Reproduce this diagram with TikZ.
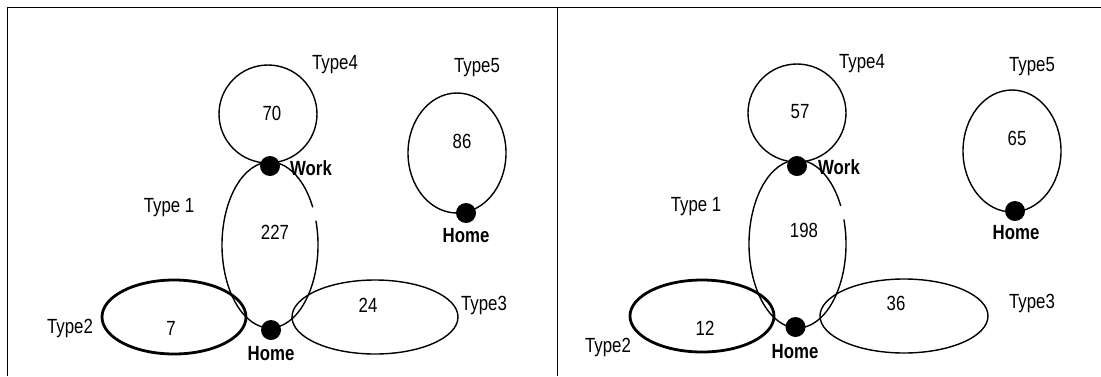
\documentclass[tikz,border=0pt]{standalone}
\usepackage{fontspec}
\setmainfont{Liberation Sans}[FakeStretch=0.82]
\begin{document}
\begin{tikzpicture}[x=1pt,y=-1pt,
	tripline/.style={line width=1.4pt},
	heavyline/.style={line width=2.8pt},
	anchordot/.style={circle,fill=black,inner sep=0pt,minimum size=20pt},
	typelabel/.style={inner sep=0pt,font=\fontsize{20.5}{24}\selectfont},
	placelabel/.style={inner sep=0pt,font=\bfseries\fontsize{20.5}{24}\selectfont}]
	\useasboundingbox (0,0) rectangle (1101,376);
	% table rules
	\coordinate (tl) at (7,7);
	\coordinate (tr) at (1101,7);
	\coordinate (bl) at (7,376);
	\coordinate (mt) at (557,7);
	\coordinate (mb) at (557,376);
	\draw[line width=0.9pt] (bl)--(tl)--(tr);
	\draw[line width=0.9pt] (mt)--(mb);
	
	% left panel
	\coordinate (c1) at (270,245);
	\draw[tripline] (268,114) circle[radius=49];
	\draw[tripline] (c1) ++(-17:48 and 83) arc[start angle=-17,end angle=333,x radius=48,y radius=83];
	\draw[heavyline] (174,317) ellipse[x radius=72,y radius=37];
	\draw[tripline] (375,317) ellipse[x radius=83,y radius=37];
	\draw[tripline] (457,153) ellipse[x radius=49,y radius=60];
	\node[anchordot] (work) at (270,166) {};
	\node[anchordot] (home) at (271,330) {};
	\node[anchordot] (home5) at (466,213) {};
	\node[placelabel] (worklbl) at (311,168) {Work};
	\node[placelabel] (homelbl) at (271,354) {Home};
	\node[placelabel] (home5lbl) at (466,236) {Home};
	\node[typelabel] (type4) at (335,65) {Type4};
	\node[typelabel] (type5) at (477,68) {Type5};
	\node[typelabel] (type1) at (169,208) {Type 1};
	\node[typelabel] (type2) at (70,328) {Type2};
	\node[typelabel] (type3) at (484,305) {Type3};
	\node[typelabel] (n4) at (272,113) {70};
	\node[typelabel] (n1) at (275,232) {227};
	\node[typelabel] (n2) at (171,328) {7};
	\node[typelabel] (n3) at (368,305) {24};
	\node[typelabel] (n5) at (462,141) {86};
	
	% right panel
	\coordinate (c1r) at (797.5,244);
	\draw[tripline] (797,113) circle[radius=49];
	\draw[tripline] (c1r) ++(-17:48.5 and 84) arc[start angle=-17,end angle=333,x radius=48.5,y radius=84];
	\draw[heavyline] (702,316) ellipse[x radius=72,y radius=36];
	\draw[tripline] (904,316) ellipse[x radius=84,y radius=37];
	\draw[tripline] (1012,151) ellipse[x radius=49,y radius=61];
	\node[anchordot] (workr) at (797,166) {};
	\node[anchordot] (homer) at (795.5,327) {};
	\node[anchordot] (home5r) at (1015,211) {};
	\node[placelabel] (worklblr) at (839,167) {Work};
	\node[placelabel] (homelblr) at (795,352) {Home};
	\node[placelabel] (home5lblr) at (1016,233) {Home};
	\node[typelabel] (type4r) at (862,64) {Type4};
	\node[typelabel] (type5r) at (1032,67) {Type5};
	\node[typelabel] (type1r) at (696,207) {Type 1};
	\node[typelabel] (type2r) at (608,347) {Type2};
	\node[typelabel] (type3r) at (1032,303) {Type3};
	\node[typelabel] (n4r) at (800,112) {57};
	\node[typelabel] (n1r) at (804,230) {198};
	\node[typelabel] (n2r) at (705,328) {12};
	\node[typelabel] (n3r) at (896,303) {36};
	\node[typelabel] (n5r) at (1017,138) {65};
\end{tikzpicture}
\end{document}
